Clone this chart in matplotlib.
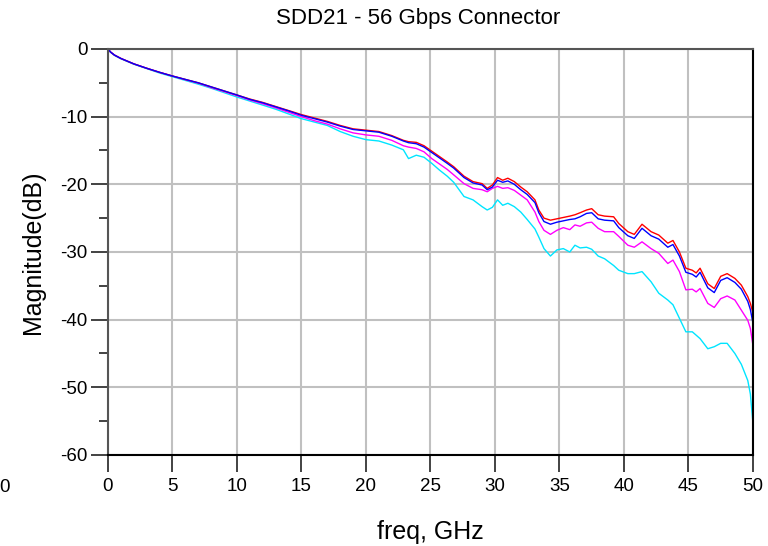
import matplotlib
matplotlib.use("Agg")
import matplotlib.pyplot as plt
from matplotlib.ticker import MultipleLocator

plt.rcParams['font.family'] = ['Liberation Sans', 'DejaVu Sans']
plt.rcParams['axes.unicode_minus'] = False

# frequency points (GHz)
freq = [0, 0.2, 0.5, 1, 2, 3, 4, 5, 6, 7,
        8, 9, 10, 11, 12, 13, 14, 15, 16, 17,
        18, 19, 20, 21, 22, 22.9, 23.3, 23.9, 24.5, 25.1,
        25.7, 26.3, 26.8, 27.6, 28.3, 29.0, 29.4, 29.8, 30.2, 30.6,
        31.0, 31.5, 32.0, 32.5, 33.1, 33.4, 33.8, 34.3, 34.8, 35.3,
        35.8, 36.2, 36.6, 37.1, 37.5, 38.0, 38.5, 39.2, 39.6, 40.3,
        40.8, 41.4, 42.1, 42.7, 43.4, 43.8, 44.3, 44.8, 45.3, 45.6,
        45.9, 46.5, 47.0, 47.5, 48.0, 48.6, 49.1, 49.6, 49.8, 50.0]

red = [0, -0.45, -0.9, -1.4, -2.2, -2.85, -3.45, -4.0, -4.5, -5.0,
       -5.6, -6.2, -6.8, -7.4, -7.9, -8.5, -9.1, -9.7, -10.2, -10.7,
       -11.3, -11.8, -12.0, -12.2, -12.8, -13.5, -13.7, -13.8, -14.3, -15.1,
       -15.9, -16.7, -17.4, -18.8, -19.6, -19.9, -20.6, -20.1, -19.0, -19.4,
       -19.1, -19.6, -20.4, -21.1, -22.3, -23.8, -25.0, -25.3, -25.1, -24.9,
       -24.7, -24.5, -24.2, -23.8, -23.6, -24.5, -24.7, -24.8, -25.8, -27.0,
       -27.4, -25.9, -27.0, -27.5, -28.7, -28.3, -30.0, -32.4, -32.7, -33.1,
       -32.4, -34.7, -35.4, -33.6, -33.2, -33.9, -34.9, -36.6, -37.6, -39.0]

blue = [0, -0.45, -0.9, -1.4, -2.2, -2.85, -3.45, -4.0, -4.5, -5.0,
        -5.6, -6.2, -6.8, -7.45, -7.95, -8.55, -9.15, -9.8, -10.3, -10.8,
        -11.4, -11.9, -12.1, -12.3, -12.9, -13.6, -13.85, -14.0, -14.5, -15.3,
        -16.1, -16.9, -17.6, -19.0, -19.8, -20.1, -20.8, -20.4, -19.4, -19.7,
        -19.5, -20.0, -20.8, -21.5, -22.7, -24.2, -25.5, -25.9, -25.6, -25.4,
        -25.2, -25.1, -24.8, -24.3, -24.2, -25.1, -25.3, -25.4, -26.4, -27.6,
        -28.0, -26.5, -27.6, -28.1, -29.3, -28.9, -30.6, -33.0, -33.3, -33.7,
        -33.0, -35.3, -36.0, -34.2, -33.8, -34.5, -35.5, -37.3, -38.5, -40.5]

magenta = [0, -0.45, -0.9, -1.4, -2.2, -2.85, -3.45, -4.0, -4.55, -5.05,
           -5.7, -6.3, -6.9, -7.55, -8.1, -8.7, -9.35, -10.0, -10.6, -11.1,
           -11.8, -12.4, -12.7, -12.9, -13.5, -14.3, -14.5, -14.7, -15.2, -16.2,
           -17.0, -17.8, -18.6, -19.9, -20.6, -20.8, -21.1, -20.6, -20.3, -20.6,
           -20.5, -20.9, -21.6, -22.3, -24.1, -25.5, -26.8, -27.4, -26.8, -26.4,
           -26.7, -26.0, -26.2, -25.7, -25.6, -26.5, -27.0, -27.0, -27.7, -29.0,
           -29.3, -28.5, -29.5, -30.2, -31.7, -31.2, -32.9, -35.6, -35.5, -35.9,
           -35.4, -37.6, -38.2, -36.9, -36.5, -37.1, -38.6, -40.1, -41.3, -43.8]

cyan = [0, -0.5, -0.95, -1.45, -2.25, -2.9, -3.55, -4.1, -4.65, -5.2,
        -5.8, -6.45, -7.1, -7.7, -8.3, -8.9, -9.6, -10.3, -10.8, -11.3,
        -12.2, -12.9, -13.4, -13.6, -14.2, -14.9, -16.2, -15.7, -16.0, -16.9,
        -17.9, -18.8, -19.7, -21.8, -22.3, -23.3, -23.8, -23.4, -22.3, -23.1,
        -22.8, -23.3, -24.1, -25.2, -26.6, -27.8, -29.5, -30.6, -29.7, -29.5,
        -30.0, -29.0, -29.4, -29.3, -29.6, -30.6, -31.0, -32.0, -32.7, -33.2,
        -33.2, -32.9, -34.4, -36.1, -37.1, -37.8, -39.8, -41.8, -41.8, -42.3,
        -42.8, -44.3, -44.0, -43.5, -43.5, -45.0, -46.6, -49.0, -51.0, -55.3]

fig = plt.figure(figsize=(7.68, 5.46), dpi=100)
ax = fig.add_axes([0.1406, 0.1667, 0.8398, 0.7436])

ax.plot(freq, cyan, color='#00e5ff', lw=1.0)
ax.plot(freq, magenta, color='#ff00ff', lw=1.0)
ax.plot(freq, red, color='#ff0000', lw=1.0)
ax.plot(freq, blue, color='#0000ff', lw=1.0)

ax.set_xlim(0, 50)
ax.set_ylim(-60, 0)
ax.xaxis.set_major_locator(MultipleLocator(5))
ax.yaxis.set_major_locator(MultipleLocator(10))
ax.yaxis.set_minor_locator(MultipleLocator(5))
ax.grid(True, which='major', color='#c0c0c0', lw=1.5)
ax.set_axisbelow(True)

ax.tick_params(axis='both', which='major', length=12.5, width=1.2, colors='#222222',
               labelsize=13.5, labelcolor='black')
ax.tick_params(axis='x', pad=4)
ax.tick_params(axis='y', pad=2)
ax.tick_params(axis='y', which='minor', length=6.5, width=1.2, colors='#222222')

ax.spines['left'].set_color('#555555')
ax.spines['top'].set_color('#555555')
ax.spines['bottom'].set_color('black')
ax.spines['right'].set_color('black')
for s in ax.spines.values():
    s.set_linewidth(1.5)

ax.set_title('SDD21 - 56 Gbps Connector', fontsize=16, pad=18, x=0.481)
ax.set_xlabel('freq, GHz', fontsize=18, labelpad=18)
ax.set_ylabel('Magnitude(dB)', fontsize=18, labelpad=11)

# stray label at the left edge
fig.text(4 / 768, 1 - 487 / 546, '0', fontsize=13.5, ha='center', va='center')

fig.savefig('out.png', dpi=100)
